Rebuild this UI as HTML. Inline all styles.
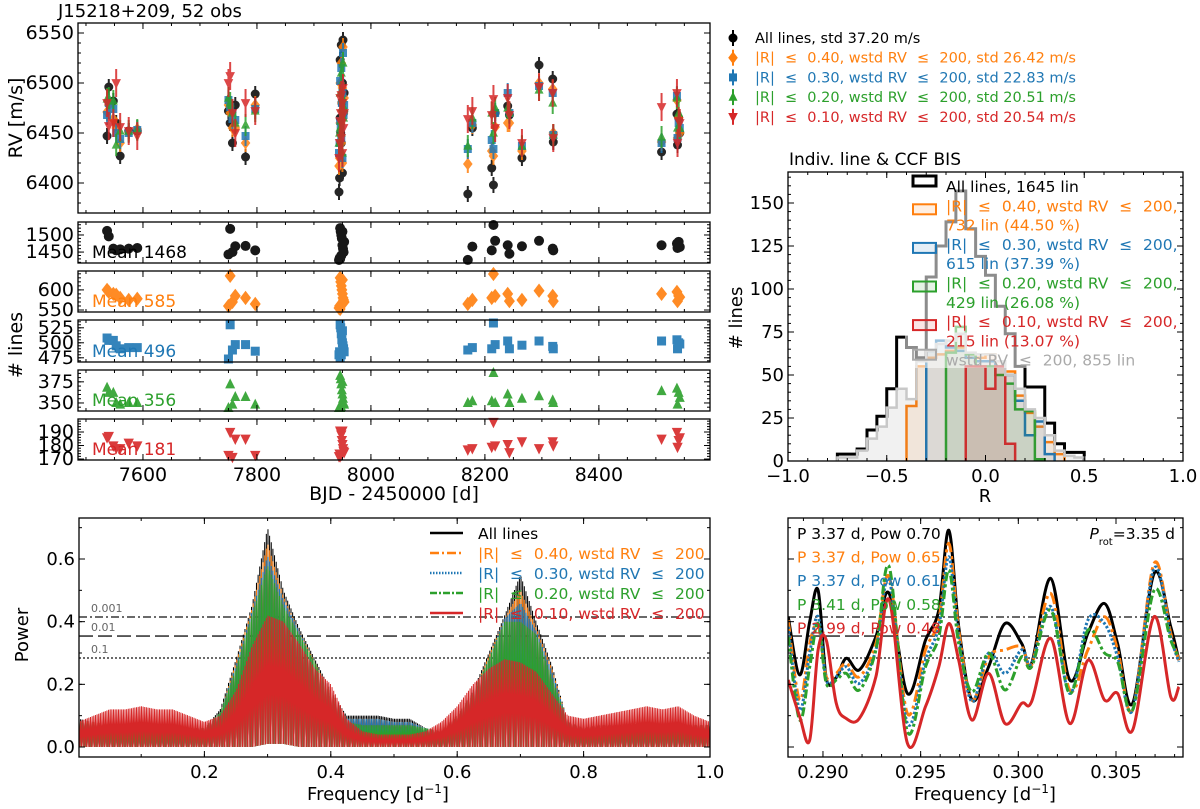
<!DOCTYPE html>
<html><head><meta charset="utf-8"><title>J15218+209 RV chart</title>
<style>
html,body{margin:0;padding:0;background:#fff;}
svg{display:block;font-family:"DejaVu Sans","Liberation Sans",sans-serif;}
</style></head>
<body>
<svg id="fig" xmlns="http://www.w3.org/2000/svg" width="1200" height="809" viewBox="0 0 1200 809"></svg>
<script>
// ---------- RV data ----------
const obsTime = [7537,7540,7548,7553,7560,7575,7590,7750,7753,7757,7762,7780,7797,7944,7945,7946,7947,7948,7949,7950,7951,7952,7953,7948,7950,7946,8170,8178,8212,8215,8218,8240,8243,8265,8295,8319,8320,8510,8537,8538,8540,8542];
const rvAll = [6447,6496,6482,6460,6427,6452,6452,6472,6460,6440,6478,6426,6489,6391,6405,6523,6450,6538,6480,6410,6543,6470,6490,6440,6500,6465,6389,6455,6415,6398,6470,6477,6468,6425,6518,6504,6441,6431,6469,6438,6465,6450];
const rv40 = [6471,6478,6464,6455,6440,6451,6454,6478,6470,6455,6455,6440,6478,6417,6425,6500,6460,6520,6480,6420,6536,6470,6485,6440,6495,6460,6419,6458,6432,6427,6456,6460,6460,6432,6500,6494,6450,6441,6483,6445,6465,6450];
const rv30 = [6468,6480,6474,6450,6444,6450,6453,6483,6476,6464,6463,6447,6474,6430,6440,6502,6455,6515,6480,6425,6530,6468,6478,6445,6490,6462,6434,6460,6443,6434,6470,6490,6470,6437,6497,6490,6448,6440,6487,6445,6460,6455];
const rv20 = [6484,6485,6482,6438,6452,6452,6453,6485,6480,6470,6460,6458,6472,6440,6450,6490,6462,6510,6475,6430,6520,6465,6475,6450,6485,6455,6437,6465,6470,6450,6475,6475,6470,6437,6493,6480,6448,6446,6485,6455,6470,6455];
const rv10 = [6480,6457,6460,6500,6456,6452,6447,6500,6507,6470,6450,6480,6472,6425,6440,6485,6470,6488,6460,6430,6495,6455,6470,6445,6480,6462,6464,6472,6468,6484,6455,6485,6468,6440,6496,6490,6445,6476,6490,6440,6462,6460];
const errAll = 8, err40 = 9, err30 = 10, err20 = 11, err10 = 14;
// ---------- number of lines ----------
const nAll = [1512,1496,1460,1455,1458,1460,1462,1443,1518,1450,1467,1468,1455,1425,1432,1520,1510,1500,1490,1470,1460,1450,1480,1440,1510,1430,1427,1466,1455,1540,1483,1470,1445,1467,1483,1460,1455,1470,1475,1462,1480,1465];
const n40 = [600,595,590,588,580,575,578,560,635,570,585,580,565,555,560,630,620,610,600,590,580,575,570,565,625,550,565,575,580,645,585,590,572,575,598,585,572,590,595,572,585,582];
const n30 = [508,504,504,495,490,492,492,472,530,488,497,497,486,480,485,530,525,515,505,500,495,490,485,480,520,475,488,492,490,538,497,503,490,496,503,494,490,503,505,490,500,498];
const n20 = [368,362,362,350,348,350,350,343,372,348,357,357,348,343,345,382,378,372,365,360,355,350,348,345,375,342,350,352,352,388,350,360,350,355,358,353,350,364,367,348,362,356];
const n10 = [186,187,180,178,178,182,180,173,190,171,185,185,173,172,174,191,190,188,184,181,178,176,175,173,191,172,177,178,179,198,180,181,175,183,178,183,180,185,190,179,184,186];
const nMeans = [1468,585,496,356,181];
// ---------- histogram ----------
const histEdges = [-0.75,-0.70,-0.65,-0.60,-0.55,-0.50,-0.45,-0.40,-0.35,-0.30,-0.25,-0.20,-0.15,-0.10,-0.05,0.00,0.05,0.10,0.15,0.20,0.25,0.30,0.35,0.40,0.45,0.50];
const histAll = [4,4,7,18,26,42,72,66,60,107,125,139,157,135,119,108,90,74,55,43,43,22,10,5,5];
const histWstd = [2,2,6,13,20,31,42,36,58,64,68,70,74,63,62,62,58,50,42,30,25,15,6,3,2];
const hist40 = [0,0,0,0,0,0,0,32,55,60,62,64,66,62,60,62,58,52,38,28,20,11,4,0,0];
const hist30 = [0,0,0,0,0,0,0,0,0,64,70,66,64,60,58,58,55,50,35,15,23,4,0,0,0];
const hist20 = [0,0,0,0,0,0,0,0,0,0,0,63,78,62,55,55,50,45,30,29,1,0,0,0,0];
const hist10 = [0,0,0,0,0,0,0,0,0,0,0,0,0,55,55,42,55,10,0,0,0,0,0,0,0];
// ---------- full periodogram envelopes ----------
const pgFreq = [0,0.025,0.05,0.075,0.1,0.125,0.15,0.175,0.2,0.225,0.25,0.275,0.3,0.325,0.35,0.375,0.4,0.425,0.45,0.475,0.5,0.525,0.55,0.575,0.6,0.625,0.65,0.675,0.7,0.725,0.75,0.775,0.8,0.825,0.85,0.875,0.9,0.925,0.95,0.975,1.0];
const pgAllHi = [0.09,0.08,0.07,0.07,0.06,0.06,0.06,0.06,0.06,0.12,0.28,0.45,0.70,0.50,0.38,0.28,0.18,0.10,0.10,0.10,0.09,0.09,0.06,0.05,0.10,0.18,0.30,0.42,0.55,0.40,0.26,0.08,0.06,0.07,0.07,0.07,0.07,0.07,0.07,0.07,0.07];
const pg40Hi = [0.08,0.08,0.07,0.07,0.06,0.06,0.06,0.06,0.06,0.11,0.27,0.44,0.65,0.48,0.37,0.27,0.17,0.09,0.09,0.09,0.08,0.08,0.06,0.05,0.10,0.17,0.29,0.41,0.50,0.38,0.25,0.08,0.06,0.07,0.07,0.07,0.07,0.07,0.07,0.07,0.07];
const pg30Hi = [0.08,0.07,0.07,0.06,0.06,0.06,0.06,0.06,0.06,0.11,0.26,0.43,0.61,0.47,0.37,0.26,0.16,0.09,0.09,0.09,0.08,0.08,0.06,0.05,0.10,0.17,0.28,0.41,0.46,0.37,0.24,0.08,0.06,0.07,0.07,0.07,0.07,0.07,0.07,0.07,0.07];
const pg20Hi = [0.08,0.07,0.07,0.06,0.06,0.06,0.06,0.06,0.06,0.11,0.25,0.42,0.58,0.45,0.36,0.27,0.16,0.08,0.07,0.07,0.07,0.07,0.06,0.05,0.10,0.17,0.28,0.40,0.40,0.36,0.22,0.08,0.06,0.07,0.07,0.07,0.07,0.07,0.07,0.07,0.07];
const pg10Hi = [0.08,0.10,0.12,0.12,0.13,0.12,0.12,0.10,0.08,0.10,0.18,0.32,0.42,0.40,0.33,0.25,0.20,0.09,0.05,0.04,0.04,0.04,0.05,0.08,0.13,0.20,0.25,0.28,0.27,0.24,0.17,0.10,0.09,0.10,0.11,0.12,0.13,0.12,0.13,0.10,0.08];
const pgLo = [0.0,0.0,0.0,0.0,0.0,0.0,0.0,0.0,0.0,0.0,0.0,0.0,0.01,0.01,0.0,0.0,0.0,0.0,0.0,0.0,0.0,0.0,0.0,0.0,0.0,0.0,0.0,0.0,0.0,0.0,0.0,0.0,0.0,0.0,0.0,0.0,0.0,0.0,0.0,0.0,0.0];
const fapLevels = [0.415,0.354,0.284];
const fapLabels = ['0.001','0.01','0.1'];
// ---------- zoomed periodogram ----------
const zFreq = [0.28822,0.28881,0.28932,0.28975,0.29017,0.29068,0.29119,0.29186,0.29271,0.29339,0.29432,0.29525,0.29593,0.29644,0.29695,0.29763,0.29848,0.29932,0.30017,0.30068,0.30166,0.30263,0.30356,0.30441,0.30508,0.30585,0.30695,0.30780,0.30822];
const zAll = [0.416,0.230,0.400,0.500,0.219,0.222,0.283,0.246,0.352,0.490,0.171,0.341,0.437,0.692,0.384,0.150,0.256,0.394,0.331,0.267,0.538,0.214,0.363,0.458,0.330,0.139,0.554,0.384,0.277];
const z40 = [0.405,0.150,0.330,0.390,0.224,0.235,0.267,0.224,0.330,0.543,0.107,0.310,0.405,0.650,0.373,0.150,0.288,0.310,0.320,0.262,0.490,0.182,0.310,0.416,0.310,0.118,0.586,0.363,0.277];
const z30 = [0.384,0.118,0.300,0.416,0.214,0.224,0.256,0.203,0.310,0.533,0.075,0.277,0.384,0.607,0.352,0.145,0.300,0.235,0.310,0.267,0.448,0.171,0.405,0.394,0.288,0.118,0.570,0.352,0.272];
const z20 = [0.352,0.086,0.256,0.394,0.203,0.214,0.235,0.182,0.310,0.575,0.049,0.256,0.352,0.565,0.330,0.176,0.300,0.182,0.288,0.256,0.437,0.171,0.373,0.300,0.272,0.118,0.500,0.341,0.288];
const z10 = [0.214,0.097,0.022,0.310,0.341,0.139,0.091,0.091,0.224,0.469,0.012,0.129,0.256,0.394,0.277,0.086,0.235,0.075,0.139,0.145,0.347,0.075,0.277,0.150,0.171,0.054,0.416,0.161,0.192];

// ---------- helpers ----------
const NS = 'http://www.w3.org/2000/svg';
const svg = document.getElementById('fig');
function mk(tag, attrs, parent) {
  const e = document.createElementNS(NS, tag);
  for (const k in attrs) e.setAttribute(k, attrs[k]);
  (parent || svg).appendChild(e);
  return e;
}
function txt(s, x, y, size, fill, anchor, parent) {
  const t = mk('text', {x: x, y: y, 'font-size': size, fill: fill || '#000', 'text-anchor': anchor || 'start'}, parent);
  t.textContent = s;
  return t;
}
function lin(d0, d1, r0, r1) { return v => r0 + (v - d0) * (r1 - r0) / (d1 - d0); }
function range(a, b, s) { const o = []; for (let v = a; v <= b + s * 1e-6; v += s) o.push(+v.toFixed(6)); return o; }
const C = {k:'#000000', o:'#ff7f0e', b:'#1f77b4', g:'#2ca02c', r:'#d62728', gr:'#bdbdbd'};
const LE = '\u2002\u2009\u2264\u2002\u2009';

function axesFrame(g, x0, y0, x1, y1, xs, ys, opt) {
  const tk = (x1a, y1a, x2a, y2a) => mk('line', {x1:x1a, y1:y1a, x2:x2a, y2:y2a, stroke:'#000', 'stroke-width':1}, g);
  for (const v of opt.xMin || []) { const x = xs(v); if (x < x0 || x > x1) continue; tk(x, y1, x, y1-3); tk(x, y0, x, y0+3); }
  for (const v of opt.xMaj || []) { const x = xs(v); if (x < x0-0.5 || x > x1+0.5) continue; tk(x, y1, x, y1-6); tk(x, y0, x, y0+6);
    if (opt.xLab) txt(opt.xFmt(v), x, y1 + 21, opt.fs || 18, '#000', 'middle', g); }
  for (const v of opt.yMin || []) { const y = ys(v); if (y < y0 || y > y1) continue; tk(x0, y, x0+3, y); tk(x1, y, x1-3, y); }
  for (const v of opt.yMaj || []) { const y = ys(v); if (y < y0-0.5 || y > y1+0.5) continue; tk(x0, y, x0+6, y); tk(x1, y, x1-6, y);
    if (opt.yLab) txt(opt.yFmt(v), x0 - 4, y + 6, opt.fs || 18, '#000', 'end', g); }
  mk('rect', {x:x0, y:y0, width:x1-x0, height:y1-y0, fill:'none', stroke:'#000', 'stroke-width':1.3}, g);
}
function marker(g, kind, x, y, color, s) {
  let e;
  if (kind === 'circle') e = mk('circle', {cx:x, cy:y, r:s, fill:color}, g);
  else if (kind === 'diamond') e = mk('polygon', {points:`${x},${y-s*1.3} ${x+s},${y} ${x},${y+s*1.3} ${x-s},${y}`, fill:color}, g);
  else if (kind === 'square') e = mk('rect', {x:x-s, y:y-s, width:2*s, height:2*s, fill:color}, g);
  else if (kind === 'up') e = mk('polygon', {points:`${x},${y-s*1.2} ${x+s},${y+s*0.8} ${x-s},${y+s*0.8}`, fill:color}, g);
  else e = mk('polygon', {points:`${x},${y+s*1.2} ${x+s},${y-s*0.8} ${x-s},${y-s*0.8}`, fill:color}, g);
  return e;
}

// ---------- left column x scale ----------
const LX0 = 78, LX1 = 710;
const tx = lin(7486, 8595, LX0, LX1);
const tMaj = range(7600, 8400, 200), tMinor = range(7500, 8550, 50);

// ---------- RV panel ----------
const gRV = mk('g', {});


const rvY = lin(6550, 6400, 33, 183);
const tTitle = txt('J15218+209, 52 obs', 58, 17, 18, '#000', 'start', gRV);


const series = [
  {vals: rvAll, err: errAll, c: C.k, m: 'circle', s: 4.5, nm: 'rv-all-lines'},
  {vals: rv40, err: err40, c: C.o, m: 'diamond', s: 4.8, nm: 'rv-r040'},
  {vals: rv30, err: err30, c: C.b, m: 'square', s: 4, nm: 'rv-r030'},
  {vals: rv20, err: err20, c: C.g, m: 'up', s: 4.5, nm: 'rv-r020'},
  {vals: rv10, err: err10, c: C.r, m: 'down', s: 4.8, nm: 'rv-r010'}
];
for (const S of series) {
  const gs = mk('g', {opacity: 0.85}, gRV);
  
  
  obsTime.forEach((t, i) => {
    const x = tx(t), y = rvY(S.vals[i]);
    const eb = mk('line', {x1:x, x2:x, y1:rvY(S.vals[i]+S.err), y2:rvY(S.vals[i]-S.err), stroke:S.c, 'stroke-width':2}, gs);
    
    
    const p = marker(gs, S.m, x, y, S.c, S.s);
    
    
  });
}
axesFrame(gRV, LX0, 23, LX1, 213, tx, rvY, {xMaj:tMaj, xMin:tMinor, yMaj:range(6400,6550,50), yMin:range(6380,6560,10), yLab:true, yFmt:v=>String(v), fs:19});
const rvLab = txt('RV [m/s]', 0, 0, 19, '#000', 'middle', gRV);
rvLab.setAttribute('transform', 'translate(22,118) rotate(-90)');



// RV legend
const gLeg = mk('g', {});


const legTexts = ['All lines, std 37.20 m/s','|R|'+LE+'0.40, wstd RV'+LE+'200, std 26.42 m/s','|R|'+LE+'0.30, wstd RV'+LE+'200, std 22.83 m/s','|R|'+LE+'0.20, wstd RV'+LE+'200, std 20.51 m/s','|R|'+LE+'0.10, wstd RV'+LE+'200, std 20.54 m/s'];
series.forEach((S, i) => {
  const y = 38 + i * 19.7;
  mk('line', {x1:733, x2:733, y1:y-8, y2:y+8, stroke:S.c, 'stroke-width':2}, gLeg);
  marker(gLeg, S.m, 733, y, S.c, S.s);
  const t = txt(legTexts[i], 755, y + 5, 14.5, S.c, 'start', gLeg);
  
  
});

// ---------- number-of-lines subpanels ----------
const subs = [
  {vals:nAll, y0:222, y1:263, d0:1418, d1:1538, maj:[1450,1500], mn:range(1420,1530,10), c:C.k, m:'circle', s:5, nm:'nlines-all'},
  {vals:n40, y0:271, y1:312, d0:545, d1:647, maj:[550,600], mn:range(550,640,10), c:C.o, m:'diamond', s:5.5, nm:'nlines-r040'},
  {vals:n30, y0:320, y1:362, d0:468, d1:538, maj:[475,500,525], mn:range(470,535,5), c:C.b, m:'square', s:4.5, nm:'nlines-r030'},
  {vals:n20, y0:370, y1:411, d0:340.5, d1:389, maj:[350,375], mn:range(345,385,5), c:C.g, m:'up', s:5, nm:'nlines-r020'},
  {vals:n10, y0:419, y1:460, d0:169.3, d1:199.6, maj:[170,180,190], mn:range(170,198,2), c:C.r, m:'down', s:5.2, nm:'nlines-r010'}
];
subs.forEach((P, k) => {
  const g = mk('g', {});
  
  
  const ys = lin(P.d0, P.d1, P.y1, P.y0);
  const gm = mk('g', {opacity:0.9}, g);
  obsTime.forEach((t, i) => {
    const p = marker(gm, P.m, tx(t), Math.max(P.y0+3, Math.min(P.y1-3, ys(P.vals[i]))), P.c, P.s);
    
    
  });
  const mt = txt('Mean ' + nMeans[k], 92, P.y1 - 5, 17, P.c, 'start', g);
  
  
  axesFrame(g, LX0, P.y0, LX1, P.y1, tx, ys, {xMaj:tMaj, xMin:tMinor, xLab:k===4, xFmt:v=>String(v), yMaj:P.maj, yMin:P.mn, yLab:true, yFmt:v=>String(v), fs:19});
});
const nlLab = txt('# lines', 0, 0, 19, '#000', 'middle');
nlLab.setAttribute('transform', 'translate(22,345) rotate(-90)');


const bjdLab = txt('BJD - 2450000 [d]', 394, 500, 19, '#000', 'middle');



// ---------- histogram ----------
const gH = mk('g', {});


const HX0 = 788, HX1 = 1183, HY0 = 172, HY1 = 461;
const hx = lin(-1, 1, HX0, HX1), hy = lin(0, 150, 461, 203);
const hTitle = txt('Indiv. line & CCF BIS', 789, 165, 17, '#000', 'start', gH);


function stepPath(counts) {
  let d = '', started = false, last = 0;
  for (let i = 0; i < counts.length; i++) {
    if (!counts[i] && !started) continue;
    const xa = hx(histEdges[i]), xb = hx(histEdges[i+1]), y = hy(counts[i]);
    if (!started) { d += `M${xa},${hy(0)} L${xa},${y} `; started = true; }
    else d += `L${xa},${y} `;
    d += `L${xb},${y} `;
    last = i;
    if (i+1 < counts.length && !counts[i+1]) { d += `L${xb},${hy(0)} `; break; }
  }
  if (started && last === counts.length-1) d += `L${hx(histEdges[counts.length])},${hy(0)}`;
  return d;
}
const hists = [
  {v:histAll, c:C.k, fill:'none', w:3, nm:'hist-all-lines'},
  {v:hist40, c:C.o, fill:'rgba(255,127,14,0.10)', w:2.5, nm:'hist-r040'},
  {v:hist30, c:C.b, fill:'rgba(31,119,180,0.10)', w:2.5, nm:'hist-r030'},
  {v:hist20, c:C.g, fill:'rgba(44,160,44,0.10)', w:2.5, nm:'hist-r020'},
  {v:hist10, c:C.r, fill:'rgba(214,39,40,0.12)', w:2.5, nm:'hist-r010'},
  {v:histWstd, c:'#c8c8c8', fill:'rgba(120,120,120,0.10)', w:2.5, nm:'hist-wstd'}
];
for (const H of hists) {
  const p = mk('path', {d: stepPath(H.v), fill: H.fill, stroke: H.c, 'stroke-width': H.w, 'stroke-linejoin':'miter'}, gH);
  
  
}
mk('rect', {x:905, y:176, width:276, height:192, fill:'#fff', opacity:0.55}, gH);
const hLeg = [
  {c:C.k, f:'none', l:['All lines, 1645 lin']},
  {c:C.o, f:'rgba(255,127,14,0.12)', l:['|R|'+LE+'0.40, wstd RV'+LE+'200,','732 lin (44.50 %)']},
  {c:C.b, f:'rgba(31,119,180,0.12)', l:['|R|'+LE+'0.30, wstd RV'+LE+'200,','615 lin (37.39 %)']},
  {c:C.g, f:'rgba(44,160,44,0.12)', l:['|R|'+LE+'0.20, wstd RV'+LE+'200,','429 lin (26.08 %)']},
  {c:C.r, f:'rgba(214,39,40,0.12)', l:['|R|'+LE+'0.10, wstd RV'+LE+'200,','215 lin (13.07 %)']},
  {c:'#aaaaaa', f:'rgba(120,120,120,0.08)', l:['wstd RV'+LE+'200, 855 lin']}
];
let ly = 187;
hLeg.forEach((L, i) => {
  const boxY = L.l.length === 2 ? ly + 3 : ly - 6;
  mk('rect', {x:913, y:boxY - 5, width:23, height:10, fill:L.f, stroke:L.c, 'stroke-width': i===0 ? 3 : 2}, gH);
  L.l.forEach((s, j) => {
    const t = txt(s, 946, ly + 5 + j*19.3, 15.5, L.c, 'start', gH);
    
    
  });
  ly += 19.3 * L.l.length;
});
axesFrame(gH, HX0, HY0, HX1, HY1, hx, hy, {xMaj:range(-1,1,0.5), xMin:range(-1,1,0.1), xLab:true, xFmt:v=>(v<0?'\u2212':'')+Math.abs(v).toFixed(1), yMaj:range(0,150,25), yMin:range(0,165,5), yLab:true, yFmt:v=>String(v), fs:18});
const hxl = txt('R', 985, 502, 18, '#000', 'middle', gH);


const hyl = txt('# lines', 0, 0, 18, '#000', 'middle', gH);
hyl.setAttribute('transform', 'translate(742,318) rotate(-90)');



// ---------- full periodogram ----------
const gP = mk('g', {});


const PX0 = 79, PX1 = 710, PY0 = 518, PY1 = 757;
const px = lin(0.0016, 1.0, PX0, PX1), py = lin(0, 0.6, 747, 559);
const cp = mk('clipPath', {id:'clipP'}, gP);
mk('rect', {x:PX0, y:PY0, width:PX1-PX0, height:PY1-PY0}, cp);
function interp(xs, ysArr, v) {
  if (v <= xs[0]) return ysArr[0];
  for (let i = 1; i < xs.length; i++) if (v <= xs[i]) { const f = (v - xs[i-1])/(xs[i]-xs[i-1]); return ysArr[i-1] + f*(ysArr[i]-ysArr[i-1]); }
  return ysArr[ysArr.length-1];
}
const pgSeries = [
  {hi:pgAllHi, c:C.k, nm:'pg-all-lines'},
  {hi:pg40Hi, c:C.o, nm:'pg-r040'},
  {hi:pg30Hi, c:C.b, nm:'pg-r030'},
  {hi:pg20Hi, c:C.g, nm:'pg-r020'},
  {hi:pg10Hi, c:C.r, nm:'pg-r010'}
];
fapLevels.forEach((v, i) => {
  const dash = ['8,3,2,3','14,5','2,2'][i];
  const l = mk('line', {x1:PX0, x2:PX1, y1:py(v), y2:py(v), stroke:'#555', 'stroke-width':1.8, 'stroke-dasharray':dash}, gP);
  
  
  txt(fapLabels[i], 91, py(v) - 5, 11, '#666', 'start', gP);
});
const pgg = mk('g', {'clip-path':'url(#clipP)'}, gP);
for (const S of pgSeries) {
  let pts = [];
  let k = 0;
  for (let f = 0.0016; f <= 1.0; f += 0.0013, k++) {
    const v = (k % 2 === 0) ? interp(pgFreq, S.hi, f) : interp(pgFreq, pgLo, f);
    pts.push(px(f).toFixed(2) + ',' + py(v).toFixed(1));
  }
  const pl = mk('polyline', {points: pts.join(' '), fill:'none', stroke:S.c, 'stroke-width':1}, pgg);
  
  
}
axesFrame(gP, PX0, PY0, PX1, PY1, px, py, {xMaj:range(0.2,1.0,0.2), xMin:range(0.1,1.0,0.1), xLab:true, xFmt:v=>v.toFixed(1), yMaj:range(0,0.6,0.2), yMin:range(0,0.7,0.1), yLab:true, yFmt:v=>v.toFixed(1), fs:18});
const pLeg = [
  {c:C.k, d:'', t:'All lines'},
  {c:C.o, d:'9,3,2,3', t:'|R|'+LE+'0.40, wstd RV'+LE+'200'},
  {c:C.b, d:'1.5,1.5', t:'|R|'+LE+'0.30, wstd RV'+LE+'200'},
  {c:C.g, d:'7,2,2,2', t:'|R|'+LE+'0.20, wstd RV'+LE+'200'},
  {c:C.r, d:'', t:'|R|'+LE+'0.10, wstd RV'+LE+'200'}
];
pLeg.forEach((L, i) => {
  const y = 533 + i * 20;
  const a = {x1:430, x2:463, y1:y, y2:y, stroke:L.c, 'stroke-width':2.5};
  if (L.d) a['stroke-dasharray'] = L.d;
  mk('line', a, gP);
  const t = txt(L.t, 478, y + 6, 15.5, L.c, 'start', gP);
  
  
});
const pxl = txt('', 378, 800, 18, '#000', 'middle', gP);
pxl.innerHTML = 'Frequency [d<tspan baseline-shift="super" font-size="12">\u22121</tspan>]';


const pyl = txt('Power', 0, 0, 18, '#000', 'middle', gP);
pyl.setAttribute('transform', 'translate(28,635) rotate(-90)');



// ---------- zoomed periodogram ----------
const gZ = mk('g', {});


const ZX0 = 788, ZX1 = 1183;
const zx = lin(0.28821, 0.30843, ZX0, ZX1);
const cz = mk('clipPath', {id:'clipZ'}, gZ);
mk('rect', {x:ZX0, y:PY0, width:ZX1-ZX0, height:PY1-PY0}, cz);
fapLevels.forEach((v, i) => {
  const dash = ['8,3,2,3','14,5','2,2'][i];
  const l = mk('line', {x1:ZX0, x2:ZX1, y1:py(v), y2:py(v), stroke:'#555', 'stroke-width':1.8, 'stroke-dasharray':dash}, gZ);
  
  
});
function smoothPath(xsArr, ysArr) {
  const P = xsArr.map((f, i) => [zx(f), py(ysArr[i])]);
  let d = `M${P[0][0]},${P[0][1]}`;
  for (let i = 0; i < P.length - 1; i++) {
    const p0 = P[Math.max(0,i-1)], p1 = P[i], p2 = P[i+1], p3 = P[Math.min(P.length-1,i+2)];
    const c1 = [p1[0] + (p2[0]-p0[0])/6, p1[1] + (p2[1]-p0[1])/6];
    const c2 = [p2[0] - (p3[0]-p1[0])/6, p2[1] - (p3[1]-p1[1])/6];
    d += ` C${c1[0].toFixed(1)},${c1[1].toFixed(1)} ${c2[0].toFixed(1)},${c2[1].toFixed(1)} ${p2[0].toFixed(1)},${p2[1].toFixed(1)}`;
  }
  return d;
}
const zg = mk('g', {'clip-path':'url(#clipZ)'}, gZ);
const zSeries = [
  {v:zAll, c:C.k, d:'', nm:'zoom-all-lines'},
  {v:z40, c:C.o, d:'12,4,3,4', nm:'zoom-r040'},
  {v:z30, c:C.b, d:'2.5,2', nm:'zoom-r030'},
  {v:z20, c:C.g, d:'9,3,3,3', nm:'zoom-r020'},
  {v:z10, c:C.r, d:'', nm:'zoom-r010'}
];
for (const S of zSeries) {
  const a = {d: smoothPath(zFreq, S.v), fill:'none', stroke:S.c, 'stroke-width':3};
  if (S.d) a['stroke-dasharray'] = S.d;
  const p = mk('path', a, zg);
  
  
}
const zTexts = ['P 3.37 d, Pow 0.70','P 3.37 d, Pow 0.65','P 3.37 d, Pow 0.61','P 3.41 d, Pow 0.58','P 2.99 d, Pow 0.48'];
const zCols = [C.k, C.o, C.b, C.g, C.r];
zTexts.forEach((s, i) => {
  const t = txt(s, 797, 539 + i * 23.6, 15.5, zCols[i], 'start', gZ);
  
  
});
const prot = txt('', 1175, 539, 15.5, '#000', 'end', gZ);
prot.innerHTML = '<tspan font-style="italic">P</tspan><tspan baseline-shift="sub" font-size="10">rot</tspan>=3.35 d';


axesFrame(gZ, ZX0, PY0, ZX1, PY1, zx, py, {xMaj:[0.290,0.295,0.300,0.305], xMin:range(0.289,0.308,0.001), xLab:true, xFmt:v=>v.toFixed(3), yMaj:range(0,0.6,0.2), yMin:range(0,0.7,0.1), yLab:false, fs:18});
const zxl = txt('', 985, 800, 18, '#000', 'middle', gZ);
zxl.innerHTML = 'Frequency [d<tspan baseline-shift="super" font-size="12">\u22121</tspan>]';


</script>
</body></html>
